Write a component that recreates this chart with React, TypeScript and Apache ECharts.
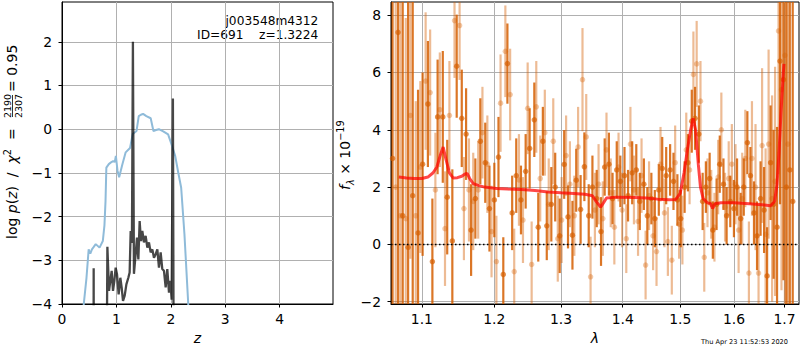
import React, { useEffect, useRef } from 'react';
import * as echarts from 'echarts';

const FONT = 'DejaVu Sans';

// ---------- Left panel: redshift fit ----------
const zTicks = [0, 1, 2, 3, 4];
const lnpTicks = [-4, -3, -2, -1, 0, 1, 2];

// chi2 curve (scaled), light blue
const zChi = [0.38, 0.40, 0.45, 0.49, 0.52, 0.55, 0.58, 0.62, 0.69, 0.75, 0.78, 0.80, 0.815, 0.86, 0.90, 0.94, 0.97, 0.99, 1.02, 1.05, 1.08, 1.11, 1.17, 1.25, 1.30, 1.33, 1.37, 1.41, 1.45, 1.49, 1.55, 1.63, 1.68, 1.73, 1.78, 1.86, 1.95, 2.01, 2.08, 2.13, 2.19, 2.25, 2.32, 2.34];
const chiVal = [-5, -4, -3.40, -2.75, -2.85, -2.75, -2.70, -2.63, -2.71, -2.56, -2.2, -1.64, -0.88, -0.80, -0.76, -0.73, -0.75, -0.61, -0.95, -1.10, -0.95, -0.80, -0.53, -0.43, -0.11, -0.08, -0.04, 0.30, 0.33, 0.35, 0.30, 0.25, -0.04, -0.02, 0.0, -0.05, -0.12, -0.34, -0.61, -0.95, -1.34, -2.40, -4, -5];

// log p(z), dark
const zPz = [0.578, 0.582, 0.586, 0.81, 0.834, 0.864, 0.888, 0.913, 0.937, 0.962, 0.986, 1.011, 1.041, 1.072, 1.096, 1.121, 1.152, 1.183, 1.219, 1.243, 1.262, 1.285, 1.303, 1.322, 1.353, 1.378, 1.403, 1.427, 1.451, 1.476, 1.506, 1.537, 1.568, 1.598, 1.629, 1.660, 1.690, 1.721, 1.752, 1.782, 1.813, 1.843, 1.874, 1.905, 1.935, 1.966, 1.990, 2.015, 2.038, 2.058];
const lnpVal = [-8, -3.18, -8, -8, -2.69, -3.70, -3.47, -3.24, -3.70, -3.47, -3.17, -3.32, -3.78, -3.40, -3.62, -3.93, -3.81, -3.55, -3.40, -3.28, -2.33, -2.60, 2.0, -3.31, -2.86, -2.48, -2.98, -2.10, -2.56, -2.33, -2.59, -2.44, -2.71, -2.59, -2.82, -2.75, -2.94, -2.86, -2.75, -3.17, -2.82, -3.20, -3.24, -3.62, -3.20, -3.74, -3.47, -3.90, 0.70, -8];

// ---------- Right panel: spectrum ----------
const lamTicks = [1.1, 1.2, 1.3, 1.4, 1.5, 1.6, 1.7];
const fluxTicks = [-2, 0, 2, 4, 6, 8];

// PA 1 (dark)
const lamA = [
  1.062, 1.069, 1.075, 1.082, 1.088, 1.095, 1.101, 1.108, 1.114, 1.121,
  1.128, 1.134, 1.141, 1.147, 1.154, 1.160, 1.167, 1.173, 1.180, 1.187,
  1.193, 1.200, 1.206, 1.213, 1.219, 1.226, 1.232, 1.239, 1.246, 1.252,
  1.259, 1.265, 1.272, 1.278, 1.285, 1.291, 1.298, 1.305, 1.311, 1.318,
  1.324, 1.331, 1.337, 1.344, 1.350, 1.357, 1.364, 1.370, 1.377, 1.383,
  1.390, 1.396, 1.403, 1.409, 1.416, 1.423, 1.429, 1.436, 1.442, 1.449,
  1.455, 1.462, 1.468, 1.475, 1.482, 1.488, 1.495, 1.501, 1.508, 1.514,
  1.521, 1.527, 1.534, 1.541, 1.547, 1.554, 1.560, 1.567, 1.573, 1.580,
  1.586, 1.593, 1.600, 1.606, 1.613, 1.619, 1.626, 1.632, 1.639, 1.645,
  1.652, 1.659, 1.665, 1.672, 1.678, 1.685, 1.691, 1.698, 1.704, 1.711,
  1.717];
const fluxA = [
  3.0, 7.4, 1.0, -0.1, 1.7, 0.4, 2.8, 4.9, -0.6, 4.45,
  4.45, 1.65, 0.12, 6.22, 4.4, 3.85, 0.5, 1.6, 3.6, 2.85,
  1.25, 1.55, 3.05, -1.05, 6.31, 1.1, 2.4, 1.55, 2.55, 3.35,
  4.35, 0.6, 3.6, 0.65, 1.4, 2.0, 0.3, 2.79, 0.96, 0.32,
  2.24, 1.22, 2.71, 1.0, 2.0, 1.6, 0.45, 2.7, 2.8, 1.6,
  2.6, 2.2, 2.4, 1.7, 2.5, 2.6, 1.5, 2.1, 1.0, 1.6,
  0.9, 1.9, 2.65, 2.4, 2.6, 2.2, 1.55, 0.9, 2.0, 2.85,
  4.3, 4.4, 3.85, 1.5, 2.0, 2.3, 0.5, 1.4, 2.8, 2.1,
  1.0, 1.5, 1.25, 2.0, 0.9, 2.0, 3.55, 2.4, 1.1, 0.3,
  1.6, 1.2, -1.1, 2.85, 1.4, 0.6, 6.4, 5.75, 2.0, 2.6,
  1.5];
const errA = [
  15, 12, 10, 9, 7, 5, 3.2, 2.2, 2.2, 2.0,
  2.3, 2.0, 2.5, 1.8, 1.7, 1.6, 1.6, 1.4, 1.5, 1.4,
  1.5, 1.3, 1.4, 1.3, 1.4, 1.3, 1.3, 1.2, 1.3, 1.4,
  1.3, 1.2, 1.2, 1.2, 1.3, 1.2, 1.3, 1.2, 1.1, 1.2,
  1.1, 1.2, 1.2, 1.1, 1.1, 1.0, 1.2, 1.0, 1.1, 0.9,
  1.0, 0.9, 1.0, 0.9, 1.1, 0.9, 1.0, 0.9, 1.0, 0.9,
  1.0, 0.9, 1.1, 1.0, 0.9, 1.0, 0.9, 1.0, 0.9, 1.0,
  1.1, 1.1, 1.0, 1.0, 0.9, 0.9, 1.0, 0.9, 1.0, 0.9,
  1.0, 0.9, 1.0, 1.0, 0.9, 1.0, 1.1, 1.0, 1.1, 1.2,
  1.3, 1.5, 1.7, 2.0, 2.6, 3.5, 5, 7, 9, 11,
  13];

// PA 2 (light)
const lamB = [
  1.066, 1.072, 1.079, 1.085, 1.092, 1.098, 1.105, 1.111, 1.118, 1.124,
  1.131, 1.137, 1.144, 1.151, 1.157, 1.164, 1.170, 1.177, 1.183, 1.190,
  1.196, 1.203, 1.209, 1.216, 1.223, 1.229, 1.236, 1.242, 1.249, 1.255,
  1.262, 1.268, 1.275, 1.281, 1.288, 1.295, 1.301, 1.308, 1.314, 1.321,
  1.327, 1.334, 1.340, 1.347, 1.354, 1.360, 1.367, 1.373, 1.380, 1.386,
  1.393, 1.399, 1.406, 1.413, 1.419, 1.426, 1.432, 1.439, 1.445, 1.452,
  1.458, 1.465, 1.472, 1.478, 1.485, 1.491, 1.498, 1.504, 1.511, 1.517,
  1.524, 1.530, 1.537, 1.544, 1.550, 1.557, 1.563, 1.570, 1.576, 1.583,
  1.590, 1.596, 1.603, 1.609, 1.616, 1.622, 1.629, 1.635, 1.642, 1.648,
  1.655, 1.662, 1.668, 1.675, 1.681, 1.688, 1.694, 1.701, 1.707];
const fluxB = [
  2.0, 1.0, 0.9, 4.5, 1.0, 2.7, 5.7, 5.3, 1.9, 4.7,
  0.55, 4.5, 7.81, 7.64, 1.25, 1.9, 1.5, 1.9, 3.9, 2.8,
  0.45, -0.6, 4.93, 6.74, 5.23, -0.95, 2.25, 0.85, 4.75, -0.7,
  4.8, 2.3, 3.9, 1.4, 3.6, 0.2, 0.85, 3.1, 2.1, 1.0,
  3.4, 5.75, 3.75, -1.13, 1.2, 2.1, 0.9, 3.3, 1.8, 0.6,
  2.7, 1.2, 0.2, 3.5, 1.9, 0.8, 2.4, -0.72, 1.7, 0.3,
  -0.25, 2.8, 1.1, 0.1, -0.55, 2.85, 0.7, 0.5, 3.3, 2.6,
  5.93, 6.3, 5.0, -0.45, 1.8, 1.4, 0.6, 2.35, 4.0, 1.3,
  2.3, 2.8, 2.1, 0.5, 1.6, 3.0, -1.0, 3.0, 2.0, -1.0,
  3.45, 0.35, 3.5, 1.6, 2.2, 7.45, 5.4, 6.6, 3.5];
const errB = [
  12, 9, 7, 5, 4, 3, 2.4, 2.2, 2.0, 2.0,
  2.0, 1.9, 2.0, 1.9, 1.8, 1.8, 1.7, 1.7, 1.6, 1.7,
  1.6, 1.6, 1.7, 1.6, 1.6, 1.5, 1.6, 1.5, 1.6, 1.5,
  1.6, 1.5, 1.5, 1.6, 1.5, 1.5, 1.5, 1.4, 1.5, 1.4,
  1.4, 1.8, 1.5, 1.4, 1.3, 1.4, 1.3, 1.3, 1.2, 1.3,
  1.2, 1.3, 1.2, 1.3, 1.2, 1.2, 1.3, 1.2, 1.2, 1.2,
  1.2, 1.3, 1.2, 1.2, 1.2, 1.3, 1.2, 1.2, 1.3, 1.2,
  1.5, 1.5, 1.4, 1.2, 1.2, 1.2, 1.2, 1.3, 1.3, 1.2,
  1.3, 1.4, 1.4, 1.5, 1.6, 1.7, 1.8, 2.0, 2.2, 2.4,
  2.7, 3.0, 3.3, 3.6, 4.0, 5, 7, 9, 11];

// best-fit model (red)
const lamModel = [1.070, 1.080, 1.090, 1.100, 1.108, 1.115, 1.120, 1.1245, 1.1285, 1.132, 1.137, 1.142, 1.148, 1.154, 1.158, 1.1615, 1.165, 1.170, 1.178, 1.186, 1.203, 1.22, 1.24, 1.26, 1.28, 1.30, 1.32, 1.338, 1.350, 1.356, 1.3634, 1.368, 1.373, 1.39, 1.42, 1.44, 1.46, 1.48, 1.492, 1.500, 1.507, 1.513, 1.519, 1.5235, 1.528, 1.533, 1.537, 1.542, 1.550, 1.556, 1.5595, 1.564, 1.575, 1.60, 1.63, 1.655, 1.672, 1.680, 1.685, 1.689, 1.693, 1.697, 1.699];
const fluxModel = [2.35, 2.32, 2.30, 2.30, 2.35, 2.5, 2.7, 3.1, 3.4, 3.0, 2.5, 2.32, 2.33, 2.38, 2.45, 2.48, 2.3, 2.12, 2.05, 2.0, 1.95, 1.93, 1.92, 1.88, 1.83, 1.80, 1.78, 1.75, 1.70, 1.5, 1.30, 1.45, 1.62, 1.65, 1.64, 1.62, 1.58, 1.56, 1.57, 1.78, 2.5, 3.3, 4.0, 4.4, 4.0, 2.8, 2.0, 1.6, 1.45, 1.42, 1.25, 1.42, 1.45, 1.45, 1.42, 1.38, 1.35, 1.5, 2.1, 3.2, 4.6, 5.8, 6.3];

const zip2 = (a: number[], b: number[]) => a.map((v, i) => [v, b[i]]);
const zip3 = (a: number[], b: number[], c: number[]) => a.map((v, i) => [v, b[i], c[i]]);
const minusFmt = (v: number) => (v < 0 ? '\u2212' + Math.abs(v) : String(v));

const DARK = 'rgba(213,94,0,0.85)';
const LIGHT = 'rgba(213,94,0,0.42)';

function axisStyle(extra: any, ticks: number[], fmt: (v: number) => string, margin: number) {
  return {
    ...extra,
    axisLine: { show: true, onZero: false, lineStyle: { color: '#000', width: 1 } },
    axisTick: { show: true, length: 3.5, inside: false, customValues: ticks, lineStyle: { color: '#000', width: 1 } },
    splitLine: { show: true, lineStyle: { color: '#b0b0b0', width: 1 } },
    minorTick: { show: false },
    axisLabel: { show: true, customValues: ticks, formatter: fmt, color: '#000', fontFamily: FONT, fontSize: 13.9, margin },
  };
}

function errorBars(color: string) {
  return (params: any, api: any) => {
    const x = api.value(0);
    const y = api.value(1);
    const e = api.value(2);
    const p1 = api.coord([x, y - e]);
    const p2 = api.coord([x, y + e]);
    return {
      type: 'line',
      shape: { x1: p1[0], y1: p1[1], x2: p2[0], y2: p2[1] },
      style: { stroke: color, lineWidth: 2.2 },
    };
  };
}

export default function App() {
  const ref = useRef<HTMLDivElement>(null);
  useEffect(() => {
    const chart = echarts.init(ref.current!, null, { renderer: 'svg' });
    const nameStyle = { fontStyle: 'italic', fontSize: 14, fontFamily: FONT, color: '#000' };
    const option: any = {
      animation: false,
      backgroundColor: '#fff',
      grid: [
        { left: 62, top: 2, width: 271, height: 302, show: true, borderColor: '#000', borderWidth: 1, backgroundColor: 'transparent', containLabel: false },
        { left: 391, top: 2, width: 408, height: 302, show: true, borderColor: '#000', borderWidth: 1, backgroundColor: 'transparent', containLabel: false },
      ],
      xAxis: [
        axisStyle({ gridIndex: 0, type: 'value', min: 0, max: 4.98, name: 'z', nameLocation: 'middle', nameGap: 27, nameTextStyle: nameStyle }, zTicks, (v) => String(v), 8),
        axisStyle({ gridIndex: 1, type: 'log', logBase: 10, min: 1.06, max: 1.73, name: 'λ', nameLocation: 'middle', nameGap: 27, nameTextStyle: nameStyle }, lamTicks, (v) => Number(v).toFixed(1), 8),
      ],
      yAxis: [
        axisStyle({ gridIndex: 0, type: 'value', min: -4, max: 2.91 }, lnpTicks, minusFmt, 10),
        axisStyle({ gridIndex: 1, type: 'value', min: -2.08, max: 8.46 }, fluxTicks, minusFmt, 10),
      ],
      series: [
        {
          type: 'line', xAxisIndex: 0, yAxisIndex: 0, data: zip2(zChi, chiVal), showSymbol: false, symbol: 'none',
          lineStyle: { color: '#8fbbd9', width: 2 }, clip: true, z: 2,
        },
        {
          type: 'line', xAxisIndex: 0, yAxisIndex: 0, data: zip2(zPz, lnpVal), showSymbol: false, symbol: 'none',
          lineStyle: { color: 'rgba(0,0,0,0.72)', width: 2.3 }, clip: true, z: 3,
        },
        {
          type: 'custom', xAxisIndex: 1, yAxisIndex: 1, data: zip3(lamB, fluxB, errB), renderItem: errorBars(LIGHT),
          encode: { x: 0, y: 1 }, clip: true, z: 2,
        },
        {
          type: 'scatter', xAxisIndex: 1, yAxisIndex: 1, data: zip2(lamB, fluxB), symbol: 'circle', symbolSize: 5.5,
          itemStyle: { color: LIGHT }, clip: true, z: 2,
        },
        {
          type: 'custom', xAxisIndex: 1, yAxisIndex: 1, data: zip3(lamA, fluxA, errA), renderItem: errorBars(DARK),
          encode: { x: 0, y: 1 }, clip: true, z: 3,
        },
        {
          type: 'scatter', xAxisIndex: 1, yAxisIndex: 1, data: zip2(lamA, fluxA), symbol: 'circle', symbolSize: 5.5,
          itemStyle: { color: DARK }, clip: true, z: 3,
        },
        {
          type: 'line', xAxisIndex: 1, yAxisIndex: 1, data: zip2(lamModel, fluxModel), showSymbol: false, symbol: 'none',
          lineStyle: { color: 'rgba(255,0,0,0.72)', width: 3 }, clip: true, z: 4,
        },
        {
          type: 'line', xAxisIndex: 1, yAxisIndex: 1, data: [[1.06, 0], [1.73, 0]], showSymbol: false, symbol: 'none',
          lineStyle: { color: '#000', width: 1.5, type: [1.5, 2.5] }, clip: true, z: 5,
        },
      ],
      graphic: [
        { type: 'text', x: 318.3, y: 20.7, style: { text: 'j003548m4312', align: 'right', verticalAlign: 'middle', fontSize: 12.2, fontFamily: FONT, fill: '#000' } },
        { type: 'text', x: 318.3, y: 34.7, style: { text: 'ID=691    z=1.3224', align: 'right', verticalAlign: 'middle', fontSize: 12.2, fontFamily: FONT, fill: '#000' } },
        { type: 'text', x: 788, y: 341.7, style: { text: 'Thu Apr 23 11:52:53 2020', align: 'right', verticalAlign: 'middle', fontSize: 6.6, fontFamily: FONT, fill: '#000' } },
        {
          type: 'group', x: 12, y: 239, rotation: Math.PI / 2,
          children: [
            {
              type: 'text', x: 0, y: 0,
              style: {
                text: '{r|log }{i|p}{r|(}{i|z}{r|)  /  }{i|χ}{s|2}{r|  =}',
                align: 'left', verticalAlign: 'middle', fontFamily: FONT, fill: '#000',
                rich: {
                  r: { fontSize: 14, fontFamily: FONT, lineHeight: 20, verticalAlign: 'middle', fill: '#000' },
                  i: { fontSize: 14, fontFamily: FONT, fontStyle: 'italic', lineHeight: 20, verticalAlign: 'middle', fill: '#000' },
                  s: { fontSize: 9.8, fontFamily: FONT, lineHeight: 12, verticalAlign: 'top', fill: '#000' },
                },
              },
            },
            { type: 'text', x: 133, y: -4.5, style: { text: '2190', align: 'center', verticalAlign: 'middle', fontSize: 9.5, fontFamily: FONT, fill: '#000' } },
            { type: 'line', shape: { x1: 122, y1: 0.5, x2: 144, y2: 0.5 }, style: { stroke: '#000', lineWidth: 0.8 } },
            { type: 'text', x: 133, y: 6, style: { text: '2307', align: 'center', verticalAlign: 'middle', fontSize: 9.5, fontFamily: FONT, fill: '#000' } },
            { type: 'text', x: 147, y: 0, style: { text: '= 0.95', align: 'left', verticalAlign: 'middle', fontSize: 14, fontFamily: FONT, fill: '#000' } },
          ],
        },
        {
          type: 'group', x: 345, y: 190, rotation: Math.PI / 2,
          children: [
            {
              type: 'text', x: 0, y: 0,
              style: {
                text: '{i|f}{sub|λ}{r| × 10}{sup|−19}',
                align: 'left', verticalAlign: 'middle', fontFamily: FONT, fill: '#000',
                rich: {
                  r: { fontSize: 14, fontFamily: FONT, lineHeight: 20, verticalAlign: 'middle', fill: '#000' },
                  i: { fontSize: 14, fontFamily: FONT, fontStyle: 'italic', lineHeight: 20, verticalAlign: 'middle', fill: '#000' },
                  sub: { fontSize: 9.8, fontFamily: FONT, fontStyle: 'italic', lineHeight: 12, verticalAlign: 'bottom', fill: '#000' },
                  sup: { fontSize: 9.8, fontFamily: FONT, lineHeight: 12, verticalAlign: 'top', fill: '#000' },
                },
              },
            },
          ],
        },
      ],
    };
    chart.setOption(option);
    return () => chart.dispose();
  }, []);
  return <div ref={ref} style={{ position: 'fixed', left: 0, top: 0, width: 800, height: 350 }} />;
}
